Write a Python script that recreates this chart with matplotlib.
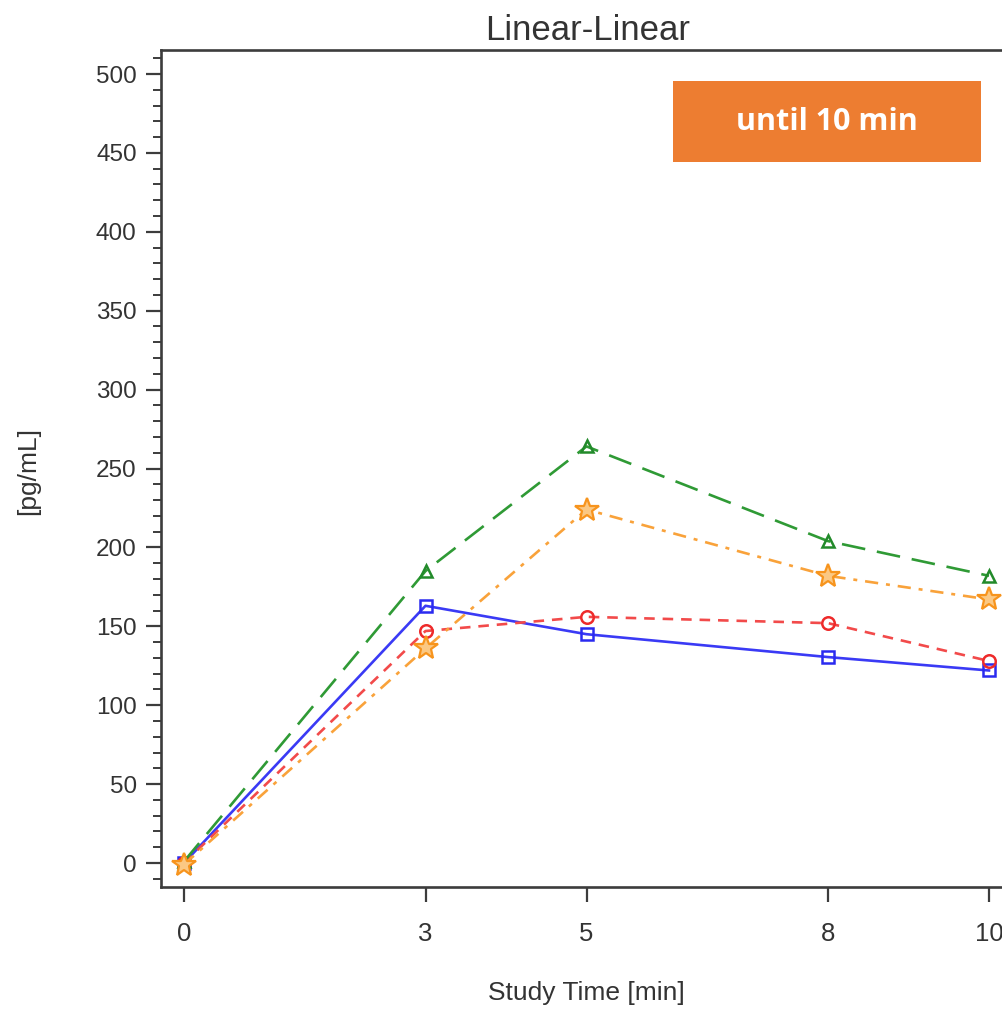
import matplotlib
matplotlib.use('Agg')
import matplotlib.pyplot as plt
from matplotlib.patches import Rectangle
from matplotlib.ticker import MultipleLocator

times = [0, 3, 5, 8, 10]
blue_vals = [0, 163, 145, 130.5, 122]
red_vals = [0, 147, 156, 152, 128]
green_vals = [1, 185, 264, 204, 182]
orange_vals = [-1, 136, 224, 182, 167]
yticks = [0, 50, 100, 150, 200, 250, 300, 350, 400, 450, 500]

title = 'Linear-Linear'
xlabel = 'Study Time [min]'
ylabel = '[pg/mL]'
note = 'until 10 min'

FONT = ['Liberation Sans', 'DejaVu Sans']
W, H = 1002, 1009


def draw_series(ax):
    ax.plot(times, blue_vals, color='#3a3af5', lw=1.9, ls='-',
            marker='s', ms=8.5, mfc='none', mec='#2a2af0', mew=1.8)
    ax.plot(times, red_vals, color='#f24a4a', lw=1.9, ls=(0, (4, 3)),
            marker='o', ms=9, mfc='none', mec='#ee2a2a', mew=1.8)
    ax.plot(times, green_vals, color='#2f9a35', lw=1.9, ls=(0, (9, 4.5)),
            marker='^', ms=9, mfc='none', mec='#228a2a', mew=1.8)
    ax.plot(times, orange_vals, color='#f9a23a', lw=1.9, ls=(0, (5, 3, 1.5, 3)),
            marker='*', ms=18, mfc='#fbc883', mec='#f7941d', mew=1.6)


def main():
    fig = plt.figure(figsize=(W / 100, H / 100), dpi=100)
    left, right, top, bottom = 161, 1032, 50, 887
    ax = fig.add_axes([left / W, 1 - bottom / H, (right - left) / W, (bottom - top) / H])

    draw_series(ax)

    # pixel -> data mapping
    x0, xs = 184, 80.5
    y0, ys = 863, 1.578
    ax.set_xlim((left - x0) / xs, (right - x0) / xs)
    ax.set_ylim(-(bottom - y0) / ys, (y0 - top) / ys)

    ax.set_xticks(times)
    ax.set_xticklabels([str(t) for t in times])
    ax.set_yticks(yticks)
    ax.yaxis.set_minor_locator(MultipleLocator(10))

    for s in ['left', 'bottom', 'top']:
        ax.spines[s].set_color('#3c3c3c')
        ax.spines[s].set_linewidth(1.9)
    ax.spines['right'].set_visible(False)

    ax.tick_params(axis='both', which='major', length=10.5, width=1.6,
                   color='#3c3c3c', labelcolor='#333333')
    ax.tick_params(axis='y', which='major', pad=7, labelsize=17.5)
    ax.tick_params(axis='x', which='major', pad=15, labelsize=18.5)
    ax.tick_params(axis='y', which='minor', length=6, width=1.4, color='#3c3c3c')
    for lab in ax.get_xticklabels() + ax.get_yticklabels():
        lab.set_family(FONT)

    fig.text(588 / W, 1 - 30 / H, title, ha='center', va='center',
             fontsize=25, color='#333333', family=FONT)
    ax.set_xlabel(xlabel, fontsize=19, color='#333333', family=FONT)
    ax.xaxis.set_label_coords(586 / W, 1 - 993 / H, transform=fig.transFigure)
    ax.xaxis.label.set_va('center')
    ax.set_ylabel(ylabel, fontsize=19, color='#333333', family=FONT)
    ax.yaxis.set_label_coords(28 / W, 1 - 471 / H, transform=fig.transFigure)
    ax.yaxis.label.set_va('center')

    # orange note box
    bx0, by0, bx1, by1 = 673, 81, 981, 162
    fig.patches.append(Rectangle((bx0 / W, 1 - by1 / H), (bx1 - bx0) / W, (by1 - by0) / H,
                                 transform=fig.transFigure, facecolor='#ed7d31',
                                 edgecolor='none', zorder=5))
    fig.text((bx0 + bx1) / 2 / W, 1 - (by0 + by1) / 2 / H, note, ha='center', va='center',
             fontsize=22, fontweight='bold', color='white',
             family=['Open Sans', 'DejaVu Sans'], zorder=6)

    fig.savefig('out.png', dpi=100)


if __name__ == '__main__':
    main()
